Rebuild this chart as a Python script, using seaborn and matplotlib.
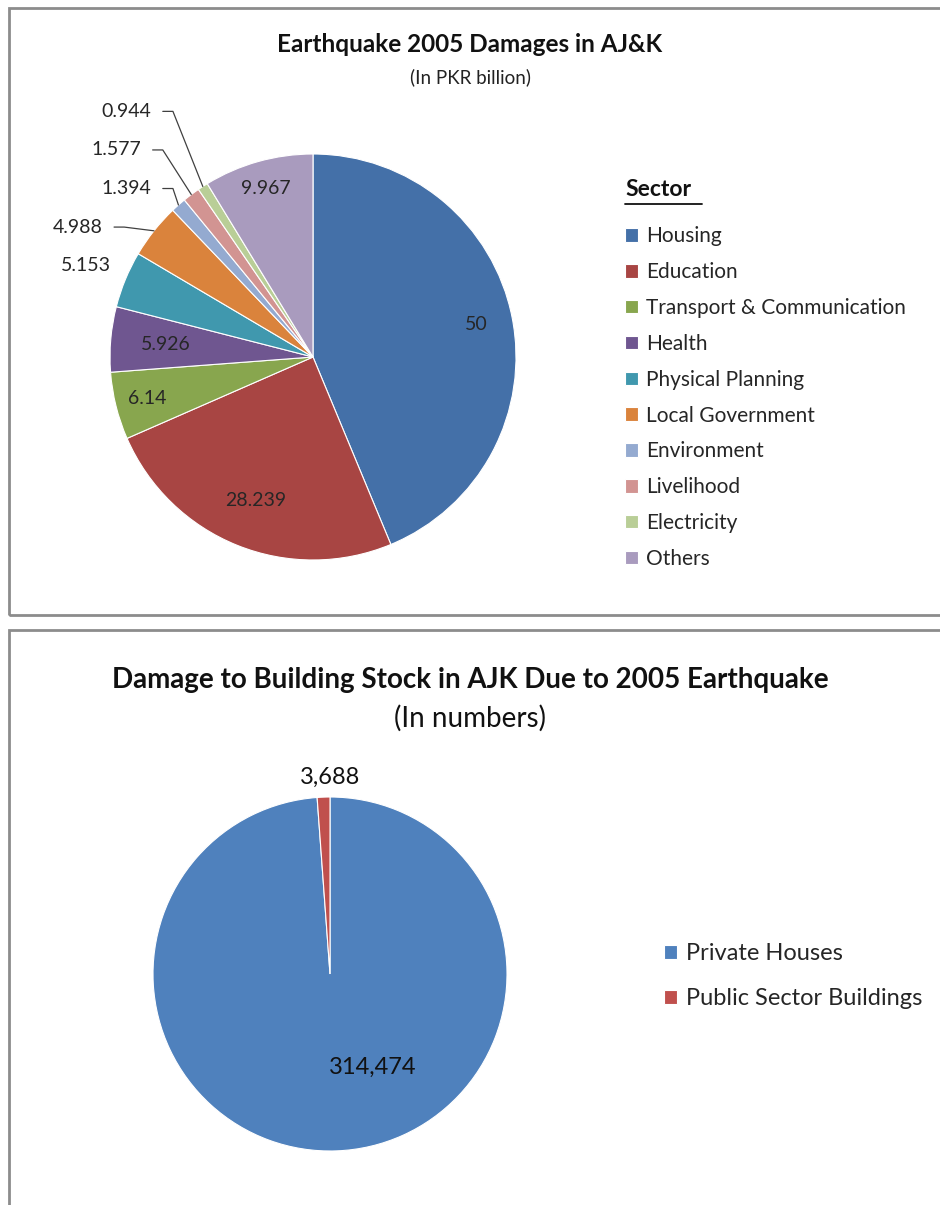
import numpy as np
import matplotlib
matplotlib.use("Agg")
import matplotlib.pyplot as plt
import seaborn as sns
from matplotlib.patches import Rectangle
from matplotlib.lines import Line2D

# data
sectors = ["Housing", "Education", "Transport & Communication", "Health",
           "Physical Planning", "Local Government", "Environment",
           "Livelihood", "Electricity", "Others"]
damages = [50, 28.239, 6.14, 5.926, 5.153, 4.988, 1.394, 1.577, 0.944, 9.967]
damage_labels = ["50", "28.239", "6.14", "5.926", "5.153", "4.988",
                 "1.394", "1.577", "0.944", "9.967"]
sector_colors = ["#4470A8", "#A84543", "#88A64E", "#6F5690", "#4098AE",
                 "#DA833C", "#94AAD0", "#D29492", "#B9CE97", "#A99BBE"]

building_types = ["Private Houses", "Public Sector Buildings"]
buildings = [314474, 3688]
building_colors = ["#4F81BD", "#C0504D"]

sns.set_theme(style="white")
plt.rcParams["font.family"] = ["Lato", "DejaVu Sans"]

W, H = 940, 1205
fig = plt.figure(figsize=(W / 100, H / 100), dpi=100)


def fx(px):
    return px / W


def fy(py):
    return 1 - py / H


# panel borders
for top, bottom in [(8, 615), (630, 1215)]:
    fig.patches.append(Rectangle((fx(9), fy(bottom)), fx(950) - fx(9), fy(top) - fy(bottom),
                                 transform=fig.transFigure, fill=False,
                                 edgecolor="#8c8c8c", lw=2))

# ---- top pie ----
cx, cy, r = 313, 357, 203
ax1 = fig.add_axes([fx(cx - r), fy(cy + r), fx(2 * r), (2 * r) / H])
wedges1, _ = ax1.pie(damages, colors=sector_colors, startangle=90, counterclock=False,
                     wedgeprops=dict(linewidth=0.8, edgecolor="white"))
ax1.set_xlim(-1, 1)
ax1.set_ylim(-1, 1)

# label placement: inside (radius fraction) or outside with leader line
inside = {0: 0.82, 1: 0.76, 2: 0.84, 3: 0.73, 9: 0.86}
outside = {4: (-1.12, 0.45, False), 5: (-1.16, 0.64, True), 6: (-0.92, 0.83, True),
           7: (-0.97, 1.02, True), 8: (-0.92, 1.21, True)}
for i, w in enumerate(wedges1):
    mid = np.deg2rad((w.theta1 + w.theta2) / 2)
    if i in inside:
        d = inside[i]
        ax1.text(d * np.cos(mid), d * np.sin(mid), damage_labels[i], ha="center",
                 va="center", fontsize=14, color="#262626")
    else:
        tx, ty, line = outside[i]
        ax1.text(tx, ty, damage_labels[i], ha="center", va="center",
                 fontsize=14, color="#262626")
        if line:
            ex, ey = np.cos(mid), np.sin(mid)
            x0 = tx + 0.18
            x1 = x0 + 0.05
            ax1.plot([x0, x1, ex], [ty, ty, ey], color="#404040", lw=0.9,
                     clip_on=False)

fig.text(0.5, fy(45), "Earthquake 2005 Damages in AJ&K", ha="center", va="center",
         fontsize=17.5, fontweight="bold", color="#111111")
fig.text(0.5, fy(77), "(In PKR billion)", ha="center", va="center",
         fontsize=13.5, color="#222222")

fig.text(fx(625), fy(190), "Sector", ha="left", va="center", fontsize=16.5,
         fontweight="bold", color="#111111")
fig.lines.append(Line2D([fx(625), fx(702)], [fy(204), fy(204)],
                        transform=fig.transFigure, color="#111111", lw=1.3))
fig.legend(wedges1, sectors, loc="upper left", bbox_to_anchor=(fx(617), fy(218)),
           frameon=False, fontsize=15, handlelength=0.63, handleheight=0.63,
           handletextpad=0.35, labelspacing=0.76, borderaxespad=0)

# ---- bottom pie ----
cx2, cy2, r2 = 330, 974, 177
ax2 = fig.add_axes([fx(cx2 - r2), fy(cy2 + r2), fx(2 * r2), (2 * r2) / H])
wedges2, _ = ax2.pie(buildings, colors=building_colors, startangle=90, counterclock=False,
                     wedgeprops=dict(linewidth=0.8, edgecolor="white"))
ax2.set_xlim(-1, 1)
ax2.set_ylim(-1, 1)
ax2.text(0.24, -0.53, f"{buildings[0]:,}", ha="center", va="center",
         fontsize=17, color="#111111")
mid1 = np.deg2rad((wedges2[1].theta1 + wedges2[1].theta2) / 2)
ax2.text(0.0, 1.11 * np.sin(mid1), f"{buildings[1]:,}", ha="center",
         va="center", fontsize=17, color="#111111")

fig.text(0.5, fy(680), "Damage to Building Stock in AJK Due to 2005 Earthquake",
         ha="center", va="center", fontsize=20, fontweight="bold", color="#111111")
fig.text(0.5, fy(718), "(In numbers)", ha="center", va="center", fontsize=20,
         color="#111111")
fig.legend(wedges2, building_types, loc="upper left", bbox_to_anchor=(fx(655), fy(934)),
           frameon=False, fontsize=17, handlelength=0.55, handleheight=0.55,
           handletextpad=0.35, labelspacing=1.0, borderaxespad=0)

fig.savefig("out.png", dpi=100)
